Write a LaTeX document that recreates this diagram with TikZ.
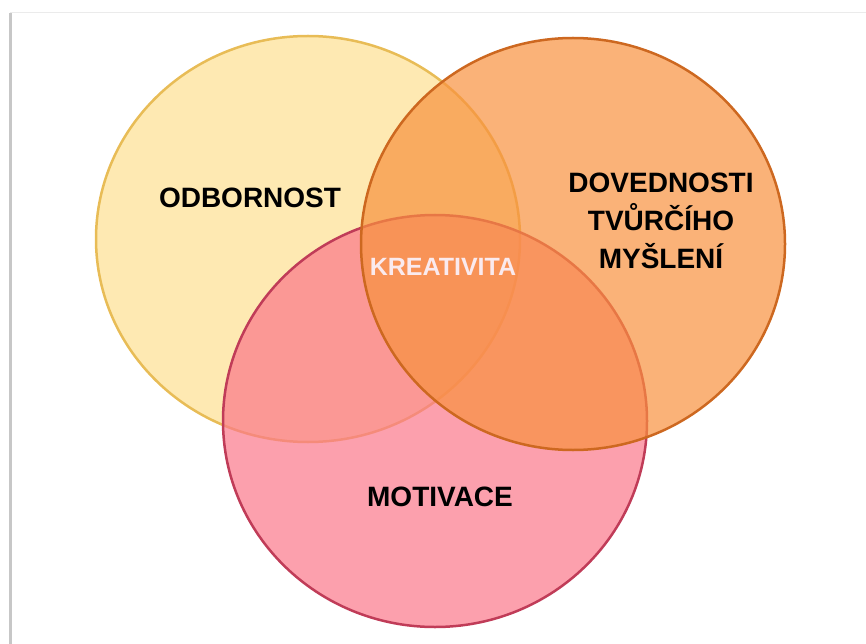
\documentclass[tikz,border=0pt]{standalone}
\usepackage{fontspec}
\setmainfont{Liberation Sans}
\usetikzlibrary{positioning}

\definecolor{yellowfill}{RGB}{254,233,178}
\definecolor{yellowline}{RGB}{232,188,86}
\definecolor{orangefill}{RGB}{248,145,62}
\definecolor{orangeline}{RGB}{205,104,32}
\definecolor{pinkfill}{RGB}{251,119,138}
\definecolor{pinkline}{RGB}{192,60,88}
\definecolor{kreacol}{RGB}{250,234,238}

\tikzset{
	venn/.style={line width=2.5pt},
	lbl/.style={font=\bfseries\fontsize{28}{38}\selectfont, align=center, text=black},
}

\begin{document}
\begin{tikzpicture}[x=1pt,y=-1pt]
	\useasboundingbox (0,0) rectangle (866,644);
	% frame
	\coordinate (FTL) at (10,13);
	\coordinate (FTR) at (866,13);
	\coordinate (FBL) at (10,644);
	\draw[line width=1pt, black!8] (FTL)--(FTR);
	\draw[line width=3pt, black!22] (FBL)--(FTL);
	
	% circle centres
	\coordinate (Y) at (308,239);
	\coordinate (O) at (573,244);
	\coordinate (P) at (435,421);
	
	\filldraw[venn, fill=yellowfill, draw=yellowline] (Y) ellipse [x radius=212pt, y radius=203pt];
	\filldraw[venn, fill=pinkfill, fill opacity=0.7, draw=pinkline] (P) ellipse [x radius=212pt, y radius=206pt];
	\filldraw[venn, fill=orangefill, fill opacity=0.7, draw=orangeline] (O) ellipse [x radius=212pt, y radius=206pt];
	
	\node[lbl] (odb) at (250,198) {ODBORNOST};
	\node[lbl] (dov) at (661,221) {DOVEDNOSTI\\TVŮRČÍHO\\MYŠLENÍ};
	\node[lbl] (mot) at (440,497) {MOTIVACE};
	\node[lbl, text=kreacol, font=\bfseries\fontsize{25}{28}\selectfont] (krea) at (443,267) {KREATIVITA};
\end{tikzpicture}
\end{document}
